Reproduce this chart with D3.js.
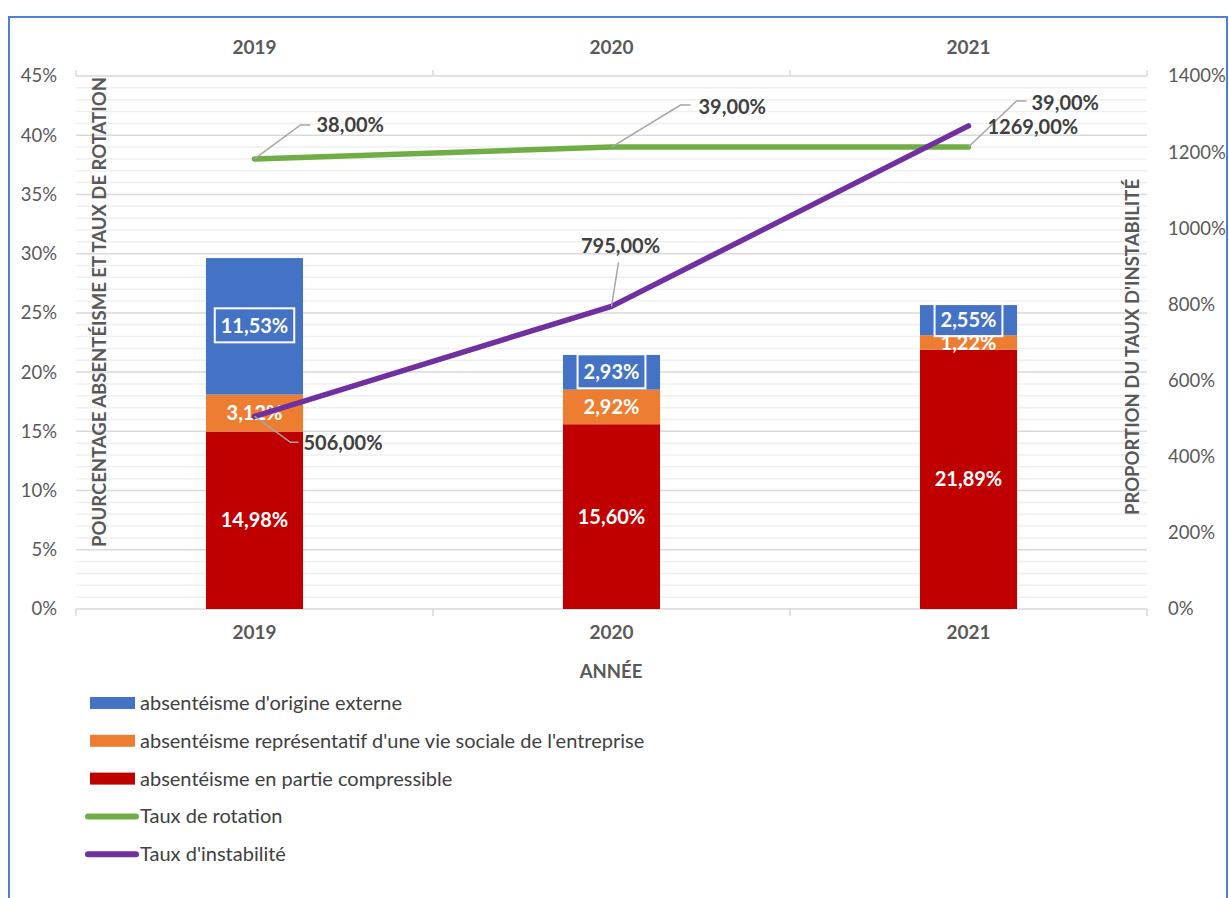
<!DOCTYPE html>
<html>
<head>
<meta charset="utf-8">
<script src="https://cdn.jsdelivr.net/npm/d3@7"></script>
<style>
  body { margin: 0; background: #fff; }
  text { font-family: Lato, "Open Sans", sans-serif; fill: #595959; }
</style>
</head>
<body>
<svg id="chart" width="1229" height="898"></svg>
<script>
// data
const years = ["2019", "2020", "2021"]
const compressible = [0.1498, 0.1560, 0.2189]
const vieSociale = [0.0312, 0.0292, 0.0122]
const externe = [0.1153, 0.0293, 0.0255]
const tauxRotation = [0.38, 0.39, 0.39]
const tauxInstabilite = [5.06, 7.95, 12.69]
const leftTicks = [0, 0.05, 0.10, 0.15, 0.20, 0.25, 0.30, 0.35, 0.40, 0.45]
const rightTicks = [0, 2, 4, 6, 8, 10, 12, 14]

const fr = d3.formatLocale({decimal: ",", thousands: "", grouping: [3], currency: ["", "€"]})
const pct2 = fr.format(".2%")
const pct0 = fr.format(".0%")

let svg = d3.select("#chart")

const plotL = 76, plotR = 1147, plotT = 76, plotB = 609

// chart frame
svg.append("rect")
    .attr("x", 9).attr("y", 17)
    .attr("width", 1218).attr("height", 900)
    .attr("fill", "none")
    .attr("stroke", "#4f7fd0")
    .attr("stroke-width", 2)

let x = d3.scalePoint().domain(years).range([plotL, plotR]).padding(0.5)
let step = x.step()
let yL = d3.scaleLinear().domain([0, 0.45]).range([plotB, plotT])
let yR = d3.scaleLinear().domain([0, 14]).range([plotB, plotT])

// gridlines, minor every 1%, major every 5%
let grid = svg.append("g")
grid.selectAll("line.minor")
    .data(d3.range(1, 45).filter(i => i % 5 != 0))
    .enter().append("line")
    .attr("x1", plotL).attr("x2", plotR)
    .attr("y1", d => yL(d / 100)).attr("y2", d => yL(d / 100))
    .attr("stroke", "#efefef").attr("stroke-width", 1.5)
grid.selectAll("line.major")
    .data(leftTicks.slice(1))
    .enter().append("line")
    .attr("x1", plotL).attr("x2", plotR)
    .attr("y1", d => yL(d)).attr("y2", d => yL(d))
    .attr("stroke", "#d9d9d9").attr("stroke-width", 1.5)

// bottom axis line + category ticks
let bounds = d3.range(years.length + 1).map(i => plotL + i * step)
svg.append("line")
    .attr("x1", plotL).attr("x2", plotR)
    .attr("y1", plotB).attr("y2", plotB)
    .attr("stroke", "#d9d9d9").attr("stroke-width", 1.5)
svg.selectAll("line.btick").data(bounds).enter().append("line")
    .attr("x1", d => d).attr("x2", d => d)
    .attr("y1", plotB).attr("y2", plotB + 7)
    .attr("stroke", "#d9d9d9").attr("stroke-width", 1.5)
svg.selectAll("line.ttick").data(bounds).enter().append("line")
    .attr("x1", d => d).attr("x2", d => d)
    .attr("y1", plotT).attr("y2", plotT - 6)
    .attr("stroke", "#d9d9d9").attr("stroke-width", 1.5)

// tick labels
svg.selectAll("text.yl").data(leftTicks).enter().append("text")
    .attr("x", 57).attr("y", d => yL(d))
    .attr("dy", "0.35em").attr("text-anchor", "end")
    .attr("font-size", 18.5)
    .text(d => pct0(d))
svg.selectAll("text.yr").data(rightTicks).enter().append("text")
    .attr("x", 1168).attr("y", d => yR(d))
    .attr("dy", "0.35em")
    .attr("font-size", 18.5)
    .text(d => pct0(d))
svg.selectAll("text.xb").data(years).enter().append("text")
    .attr("x", d => x(d)).attr("y", 639)
    .attr("text-anchor", "middle").attr("font-size", 19).attr("font-weight", "bold")
    .text(d => d)
svg.selectAll("text.xt").data(years).enter().append("text")
    .attr("x", d => x(d)).attr("y", 54)
    .attr("text-anchor", "middle").attr("font-size", 19).attr("font-weight", "bold")
    .text(d => d)

// axis titles
svg.append("text")
    .attr("x", 611).attr("y", 678)
    .attr("text-anchor", "middle").attr("font-size", 18.5).attr("font-weight", "bold")
    .text("ANNÉE")
svg.append("text")
    .attr("transform", "translate(106,312) rotate(-90)")
    .attr("text-anchor", "middle").attr("font-size", 18.5).attr("font-weight", "bold")
    .text("POURCENTAGE ABSENTÉISME ET TAUX DE ROTATION")
svg.append("text")
    .attr("transform", "translate(1139,347) rotate(-90)")
    .attr("text-anchor", "middle").attr("font-size", 18.5).attr("font-weight", "bold")
    .text("PROPORTION DU TAUX D'INSTABILITÉ")

// stacked bars
let series = [
    {name: "absentéisme en partie compressible", color: "#c00000", values: compressible},
    {name: "absentéisme représentatif d'une vie sociale de l'entreprise", color: "#ed7d31", values: vieSociale},
    {name: "absentéisme d'origine externe", color: "#4472c4", values: externe, boxed: true}
]
let barW = step * 0.272
let base = years.map(() => 0)
let barG = svg.append("g")
let labG = svg.append("g")
series.forEach(s => {
    years.forEach((yr, i) => {
        let y0 = base[i], y1 = base[i] + s.values[i]
        barG.append("rect")
            .attr("x", x(yr) - barW / 2).attr("width", barW)
            .attr("y", yL(y1)).attr("height", yL(y0) - yL(y1))
            .attr("fill", s.color)
        let t = labG.append("text")
            .attr("x", x(yr)).attr("y", yL((y0 + y1) / 2))
            .attr("dy", "0.35em").attr("text-anchor", "middle")
            .attr("font-size", 20).attr("font-weight", "bold")
            .style("fill", "#fff")
            .text(pct2(s.values[i]))
        if (s.boxed) {
            let bb = t.node().getBBox()
            labG.append("rect")
                .attr("x", bb.x - 6).attr("y", bb.y - 5)
                .attr("width", bb.width + 12).attr("height", bb.height + 10)
                .attr("fill", "none").attr("stroke", "#fff").attr("stroke-width", 2)
        }
        base[i] = y1
    })
})

// lines
const drawLine = (values, yScale, color) => {
    svg.append("path")
        .datum(values)
        .attr("d", d3.line().x((d, i) => x(years[i])).y(d => yScale(d)))
        .attr("fill", "none")
        .attr("stroke", color)
        .attr("stroke-width", 5.5)
        .attr("stroke-linecap", "round")
        .attr("stroke-linejoin", "round")
}
drawLine(tauxRotation, yL, "#70ad47")
drawLine(tauxInstabilite, yR, "#7030a0")

// data labels with leader lines (elbow offset, label offset)
const lineLabel = (px, py, pts, tx, ty, txt, anchor) => {
    if (pts.length) {
        svg.append("path")
            .attr("d", d3.line()([[px, py]].concat(pts.map(p => [px + p[0], py + p[1]]))))
            .attr("fill", "none").attr("stroke", "#a6a6a6").attr("stroke-width", 1.5)
    }
    svg.append("text")
        .attr("x", px + tx).attr("y", py + ty)
        .attr("dy", "0.35em").attr("text-anchor", anchor || "start")
        .attr("font-size", 20).attr("font-weight", "bold")
        .style("fill", "#404040")
        .text(txt)
}
let rotLayout = [
    {pts: [[46, -34], [56, -34]], tx: 62, ty: -34},
    {pts: [[69, -42], [79, -42]], tx: 87, ty: -40},
    {pts: [[48, -46], [58, -46]], tx: 63, ty: -44}
]
tauxRotation.forEach((v, i) => {
    let l = rotLayout[i]
    lineLabel(x(years[i]), yL(v), l.pts, l.tx, l.ty, pct2(v))
})
let instLayout = [
    {pts: [[36, 26], [44, 26]], tx: 49, ty: 27},
    {pts: [[7, -44]], tx: 9, ty: -60, anchor: "middle"},
    {pts: [], tx: 19, ty: 1}
]
tauxInstabilite.forEach((v, i) => {
    let l = instLayout[i]
    lineLabel(x(years[i]), yR(v), l.pts, l.tx, l.ty, pct2(v), l.anchor)
})

// legend
let legend = svg.append("g")
let legItems = [
    {name: series[2].name, color: series[2].color, type: "rect"},
    {name: series[1].name, color: series[1].color, type: "rect"},
    {name: series[0].name, color: series[0].color, type: "rect"},
    {name: "Taux de rotation", color: "#70ad47", type: "line"},
    {name: "Taux d'instabilité", color: "#7030a0", type: "line"}
]
legItems.forEach((d, i) => {
    let cy = 703 + i * 37.8
    if (d.type == "rect") {
        legend.append("rect")
            .attr("x", 90).attr("y", cy - 6).attr("width", 45).attr("height", 12)
            .attr("fill", d.color)
    } else {
        legend.append("line")
            .attr("x1", 88).attr("x2", 136).attr("y1", cy).attr("y2", cy)
            .attr("stroke", d.color).attr("stroke-width", 6).attr("stroke-linecap", "round")
    }
    legend.append("text")
        .attr("x", 140).attr("y", cy).attr("dy", "0.35em")
        .attr("font-size", 20)
        .style("fill", "#404040")
        .text(d.name)
})
</script>
</body>
</html>
